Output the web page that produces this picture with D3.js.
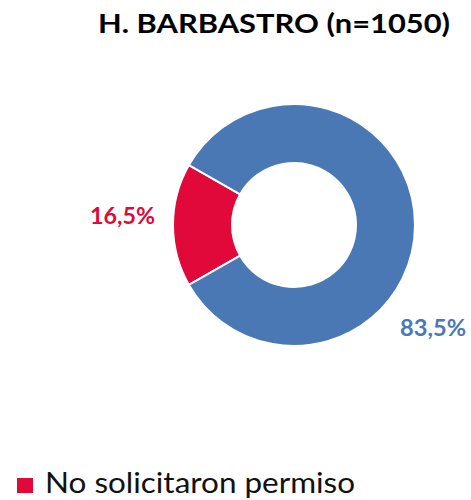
<!DOCTYPE html>
<html>
<head>
<meta charset="utf-8">
<script src="https://cdn.jsdelivr.net/npm/d3@7"></script>
<style>
  body { margin: 0; background: #fff; }
  text { font-family: Lato, "Open Sans", sans-serif; }
</style>
</head>
<body>
<svg id="chart" width="471" height="500"></svg>
<script>
// datos del grafico
const categories = ["No solicitaron permiso", "Solicitaron permiso"];
const values = [16.5, 83.5];
const labels = ["16,5%", "83,5%"];
const colors = ["#e1083a", "#4a78b4"];
const title = "H. BARBASTRO (n=1050)";

const svg = d3.select("#chart");
const cx = 294, cy = 225;
const outerR = 121, innerR = 62;

// titulo
svg.append("text")
    .attr("x", 98)
    .attr("y", 33)
    .attr("font-size", 27)
    .attr("font-weight", "bold")
    .attr("fill", "#000")
    .attr("textLength", 352)
    .attr("lengthAdjust", "spacingAndGlyphs")
    .text(title);

// la porcion roja centrada a la izquierda
const startA = -Math.PI / 2 - Math.PI * values[0] / 100;
const pie = d3.pie().sort(null).value(d => d)
    .startAngle(startA).endAngle(startA + 2 * Math.PI);
const arc = d3.arc().innerRadius(innerR).outerRadius(outerR);

const g = svg.append("g").attr("transform", "translate(" + cx + "," + cy + ")");
g.selectAll("path")
    .data(pie(values))
    .enter().append("path")
    .attr("d", arc)
    .attr("fill", (d, i) => colors[i])
    .attr("stroke", "#fff")
    .attr("stroke-width", 2);

// etiquetas
const labelPos = [
    {x: 90, y: 224, w: 65},
    {x: 400, y: 336, w: 66}
];
svg.selectAll("text.lbl")
    .data(labels)
    .enter().append("text")
    .attr("class", "lbl")
    .attr("x", (d, i) => labelPos[i].x)
    .attr("y", (d, i) => labelPos[i].y)
    .attr("font-size", 22)
    .attr("font-weight", "bold")
    .attr("fill", (d, i) => colors[i])
    .attr("textLength", (d, i) => labelPos[i].w)
    .attr("lengthAdjust", "spacingAndGlyphs")
    .text(d => d);

// leyenda (solo se ve la primera entrada)
svg.append("rect")
    .attr("x", 17).attr("y", 478)
    .attr("width", 16).attr("height", 15)
    .attr("fill", colors[0]);
svg.append("text")
    .attr("x", 45)
    .attr("y", 493)
    .attr("font-size", 28)
    .attr("fill", "#111")
    .attr("textLength", 310)
    .attr("lengthAdjust", "spacingAndGlyphs")
    .text(categories[0]);
</script>
</body>
</html>
